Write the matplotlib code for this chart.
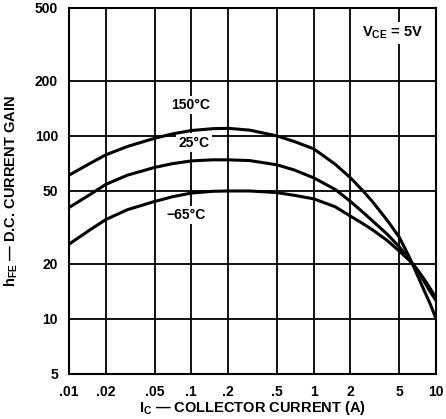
import matplotlib
matplotlib.use("Agg")
import matplotlib.pyplot as plt
from matplotlib.ticker import FixedLocator, FixedFormatter, NullLocator

plt.rcParams['font.family'] = ['Liberation Sans', 'DejaVu Sans']
plt.rcParams['font.weight'] = 'bold'
plt.rcParams['mathtext.fontset'] = 'custom'
plt.rcParams['mathtext.rm'] = 'Liberation Sans:bold'
plt.rcParams['mathtext.it'] = 'Liberation Sans:bold'
plt.rcParams['mathtext.bf'] = 'Liberation Sans:bold'

# collector current (A) and dc current gain
ic = [0.01, 0.015, 0.02, 0.03, 0.05, 0.07, 0.1, 0.15, 0.2, 0.3, 0.5, 0.7,
      1, 1.5, 2, 2.5, 3, 4, 5, 6, 6.5, 7, 8, 9, 10]
hfe_150 = [61, 71, 78.8, 87.5, 97, 102.5, 107, 109.5, 110, 107.5, 100, 93,
           85, 70, 59, 50.5, 44, 34.5, 28, 22, 19.6, 17.5, 14.3, 12, 10]
hfe_25 = [40.6, 48, 54.3, 61, 67.2, 70.5, 73, 74, 74, 73.3, 69.5, 65,
          59, 51, 43.8, 38.5, 34.5, 29, 24.8, 21.3, 19.7, 18.5, 16, 14, 12.6]
hfe_m65 = [25.6, 30.8, 34.9, 39.5, 43.8, 46.5, 48.7, 49.8, 50, 50, 49, 47.3,
           45.3, 41, 36.4, 33.3, 30.8, 26.8, 23.5, 21, 19.8, 18.7, 16.5, 14.6, 13]

x_ticks = [0.01, 0.02, 0.05, 0.1, 0.2, 0.5, 1, 2, 5, 10]
x_labels = ['.01', '.02', '.05', '.1', '.2', '.5', '1', '2', '5', '10']
y_ticks = [5, 10, 20, 50, 100, 200, 500]
y_labels = ['5', '10', '20', '50', '100', '200', '500']

fig = plt.figure(figsize=(4.46, 4.19), dpi=100)
ax = fig.add_axes([0.1547, 0.1074, 0.8229, 0.8736])
ax.set_xscale('log')
ax.set_yscale('log')
ax.set_xlim(0.01, 10)
ax.set_ylim(5, 500)

ax.xaxis.set_major_locator(FixedLocator(x_ticks))
ax.xaxis.set_major_formatter(FixedFormatter(x_labels))
ax.xaxis.set_minor_locator(NullLocator())
ax.yaxis.set_major_locator(FixedLocator(y_ticks))
ax.yaxis.set_major_formatter(FixedFormatter(y_labels))
ax.yaxis.set_minor_locator(NullLocator())
ax.tick_params(length=0, labelsize=10, pad=8)
for lab in ax.get_xticklabels() + ax.get_yticklabels():
    lab.set_fontweight('bold')

ax.grid(True, color='black', linewidth=1.3, zorder=1)
ax.set_axisbelow(True)
for s in ax.spines.values():
    s.set_linewidth(1.5)

for h in (hfe_150, hfe_25, hfe_m65):
    ax.plot(ic, h, color='black', linewidth=2.2, solid_capstyle='round',
            solid_joinstyle='round', zorder=3)

# labels sit on white patches that hide the grid but not the curves
box = dict(facecolor='white', edgecolor='none', pad=1.5)
ax.text(0.099, 147, '150°C', fontsize=10, fontweight='bold', ha='center', va='center', bbox=box, zorder=2)
ax.text(0.105, 92, '25°C', fontsize=10, fontweight='bold', ha='center', va='center', bbox=box, zorder=2)
ax.text(0.091, 36.9, '\u221265°C', fontsize=10, fontweight='bold', ha='center', va='center', bbox=box, zorder=2)
ax.text(4.4, 365, r'V$_{\mathrm{CE}}$ = 5V', fontsize=10.5, fontweight='bold', ha='center', va='center',
        bbox=dict(facecolor='white', edgecolor='none', pad=2), zorder=2)

ax.set_xlabel(r'I$_{\mathrm{C}}$ — COLLECTOR CURRENT (A)', fontsize=10.5, fontweight='bold', labelpad=0)
ax.set_ylabel(r'h$_{\mathrm{FE}}$ — D.C. CURRENT GAIN', fontsize=10.5, fontweight='bold')
ax.yaxis.set_label_coords(-0.134, 0.5)

fig.savefig('out.png', dpi=100, facecolor='white')
